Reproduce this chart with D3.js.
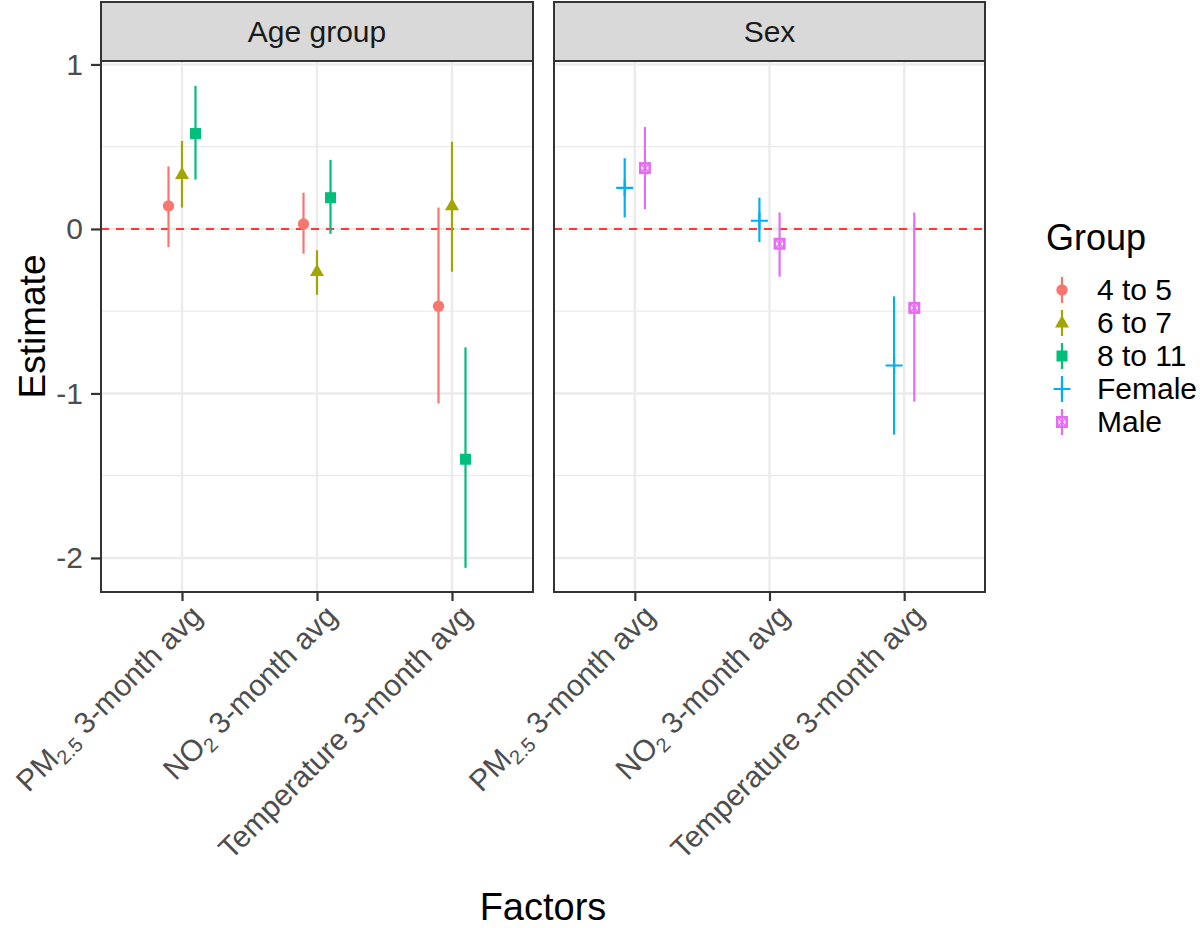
<!DOCTYPE html>
<html>
<head>
<meta charset="utf-8">
<script src="https://cdn.jsdelivr.net/npm/d3@7"></script>
<style>
  body { margin: 0; background: #fff; }
  text { font-family: "Liberation Sans", Arial, sans-serif; }
</style>
</head>
<body>
<script>
// values
var factors = ["PM2.5", "NO2", "Temperature"];
var facetNames = ["Age group", "Sex"];
var groups = ["4 to 5", "6 to 7", "8 to 11", "Female", "Male"];
var groupColors = ["#F8766D", "#A3A500", "#00BF7D", "#00B0F6", "#E76BF3"];
var groupShapes = ["circle", "triangle", "square", "plus", "squarecross"];

var ageGroups = ["4 to 5", "6 to 7", "8 to 11"];
var ageEstimate = [[0.14, 0.03, -0.47], [0.33, -0.26, 0.14], [0.58, 0.19, -1.40]];
var ageLower    = [[-0.11, -0.15, -1.06], [0.13, -0.40, -0.26], [0.30, -0.03, -2.06]];
var ageUpper    = [[0.38, 0.22, 0.13], [0.535, -0.13, 0.53], [0.87, 0.42, -0.72]];

var sexGroups = ["Female", "Male"];
var sexEstimate = [[0.25, 0.05, -0.83], [0.37, -0.09, -0.48]];
var sexLower    = [[0.07, -0.08, -1.25], [0.12, -0.29, -1.05]];
var sexUpper    = [[0.43, 0.19, -0.41], [0.62, 0.10, 0.10]];

var yTicks = [-2, -1, 0, 1];
var yMinor = [-1.5, -0.5, 0.5];

var width = 1200, height = 928;
var plotTop = 61, plotBottom = 592, stripTop = 2;
var panels = [{x0: 101, x1: 533}, {x0: 554, x1: 985}];
var smallFont = 30, bigFont = 37;

var svg = d3.select("body").append("svg")
    .attr("width", width)
    .attr("height", height);

var yscale = d3.scaleLinear().domain([-2.207, 1.021]).range([plotBottom, plotTop]);
var color = d3.scaleOrdinal().domain(groups).range(groupColors);
var shape = d3.scaleOrdinal().domain(groups).range(groupShapes);

function drawShape(g, kind, col) {
    if (kind == "circle") {
        g.append("circle").attr("r", 5.7).attr("fill", col);
    } else if (kind == "triangle") {
        g.append("path").attr("d", "M0,-7.8L7,4.4L-7,4.4Z").attr("fill", col);
    } else if (kind == "square") {
        g.append("rect").attr("x", -5.5).attr("y", -5.5).attr("width", 11).attr("height", 11).attr("fill", col);
    } else if (kind == "plus") {
        g.append("path").attr("d", "M-8.5,0H8.5M0,-8.5V8.5").attr("stroke", col).attr("stroke-width", 2.2);
    } else {
        g.append("rect").attr("x", -4.7).attr("y", -4.7).attr("width", 9.4).attr("height", 9.4)
            .attr("fill", "none").attr("stroke", col).attr("stroke-width", 2.6);
        g.append("path").attr("d", "M-4.7,-4.7L4.7,4.7M4.7,-4.7L-4.7,4.7")
            .attr("stroke", col).attr("stroke-width", 1.4);
    }
}

function factorLabel(sel, f) {
    if (f == "PM2.5") {
        sel.append("tspan").text("PM");
        sel.append("tspan").attr("font-size", 20).attr("dy", 6).text("2.5");
        sel.append("tspan").attr("dy", -6).text(" 3-month avg");
    } else if (f == "NO2") {
        sel.append("tspan").text("NO");
        sel.append("tspan").attr("font-size", 20).attr("dy", 6).text("2");
        sel.append("tspan").attr("dy", -6).text(" 3-month avg");
    } else {
        sel.append("tspan").text(f + " 3-month avg");
    }
}

var facetData = [
    {groups: ageGroups, est: ageEstimate, lo: ageLower, hi: ageUpper},
    {groups: sexGroups, est: sexEstimate, lo: sexLower, hi: sexUpper}
];

panels.forEach(function(p, pi) {
    var xscale = d3.scalePoint().domain(factors).range([p.x0, p.x1]).padding(0.6);
    var step = xscale.step();
    var g = svg.append("g");

    // grid
    yMinor.forEach(function(v) {
        g.append("line").attr("x1", p.x0).attr("x2", p.x1)
            .attr("y1", yscale(v)).attr("y2", yscale(v))
            .attr("stroke", "#EBEBEB").attr("stroke-width", 1.2);
    });
    yTicks.forEach(function(v) {
        g.append("line").attr("x1", p.x0).attr("x2", p.x1)
            .attr("y1", yscale(v)).attr("y2", yscale(v))
            .attr("stroke", "#EBEBEB").attr("stroke-width", 2.4);
    });
    factors.forEach(function(f) {
        g.append("line").attr("x1", xscale(f)).attr("x2", xscale(f))
            .attr("y1", plotTop).attr("y2", plotBottom)
            .attr("stroke", "#EBEBEB").attr("stroke-width", 2.4);
    });

    // zero reference
    g.append("line").attr("x1", p.x0).attr("x2", p.x1)
        .attr("y1", yscale(0)).attr("y2", yscale(0))
        .attr("stroke", "#FF0000").attr("stroke-width", 1.6)
        .attr("stroke-dasharray", "8,7");

    var fd = facetData[pi];
    var n = fd.groups.length;
    fd.groups.forEach(function(gr, gi) {
        var off = (gi - (n - 1) / 2) * (0.3 / n) * step;
        factors.forEach(function(f, fi) {
            var x = xscale(f) + off;
            g.append("line").attr("x1", x).attr("x2", x)
                .attr("y1", yscale(fd.lo[gi][fi])).attr("y2", yscale(fd.hi[gi][fi]))
                .attr("stroke", color(gr)).attr("stroke-width", 2.2);
            var pt = g.append("g").attr("transform", "translate(" + x + "," + yscale(fd.est[gi][fi]) + ")");
            drawShape(pt, shape(gr), color(gr));
        });
    });

    // panel border
    g.append("rect").attr("x", p.x0).attr("y", plotTop)
        .attr("width", p.x1 - p.x0).attr("height", plotBottom - plotTop)
        .attr("fill", "none").attr("stroke", "#333333").attr("stroke-width", 2);

    // strip
    g.append("rect").attr("x", p.x0).attr("y", stripTop)
        .attr("width", p.x1 - p.x0).attr("height", plotTop - stripTop)
        .attr("fill", "#D9D9D9").attr("stroke", "#333333").attr("stroke-width", 2);
    g.append("text").attr("x", (p.x0 + p.x1) / 2).attr("y", (stripTop + plotTop) / 2 + 10)
        .attr("text-anchor", "middle").attr("font-size", smallFont).attr("fill", "#1A1A1A")
        .text(facetNames[pi]);

    // x axis
    var xa = svg.append("g").attr("transform", "translate(0," + plotBottom + ")")
        .call(d3.axisBottom(xscale).tickSize(9).tickFormat(""));
    xa.select(".domain").remove();
    xa.selectAll(".tick line").attr("stroke", "#333333").attr("stroke-width", 2.2);
    factors.forEach(function(f) {
        var t = svg.append("text")
            .attr("transform", "translate(" + (xscale(f) + 6) + "," + (plotBottom + 10) + ") rotate(-45)")
            .attr("text-anchor", "end").attr("dy", "0.75em")
            .attr("font-size", smallFont).attr("fill", "#4D4D4D");
        factorLabel(t, f);
    });
});

// y axis
var ya = svg.append("g").attr("transform", "translate(" + panels[0].x0 + ",0)")
    .call(d3.axisLeft(yscale).tickValues(yTicks).tickSize(10).tickFormat(d => String(d)));
ya.select(".domain").remove();
ya.selectAll(".tick line").attr("stroke", "#333333").attr("stroke-width", 2.2);
ya.selectAll(".tick text").attr("font-size", smallFont).attr("fill", "#4D4D4D")
    .attr("x", -18).style("font-family", "Liberation Sans, Arial, sans-serif");

// axis titles
svg.append("text").attr("x", (panels[0].x0 + panels[1].x1) / 2).attr("y", 920)
    .attr("text-anchor", "middle").attr("font-size", bigFont + 1).attr("fill", "#000").text("Factors");
svg.append("text").attr("transform", "translate(45," + ((plotTop + plotBottom) / 2) + ") rotate(-90)")
    .attr("text-anchor", "middle").attr("font-size", bigFont).attr("fill", "#000").text("Estimate");

// legend
var leg = svg.append("g");
leg.append("text").attr("x", 1046).attr("y", 250).attr("font-size", bigFont - 1).text("Group");
groups.forEach(function(gr, i) {
    var cy = 290 + i * 33;
    leg.append("line").attr("x1", 1062).attr("x2", 1062)
        .attr("y1", cy - 13).attr("y2", cy + 13)
        .attr("stroke", color(gr)).attr("stroke-width", 2.2);
    var pt = leg.append("g").attr("transform", "translate(1062," + cy + ")");
    drawShape(pt, shape(gr), color(gr));
    leg.append("text").attr("x", 1097).attr("y", cy + 10).attr("font-size", smallFont).text(gr);
});
</script>
</body>
</html>
